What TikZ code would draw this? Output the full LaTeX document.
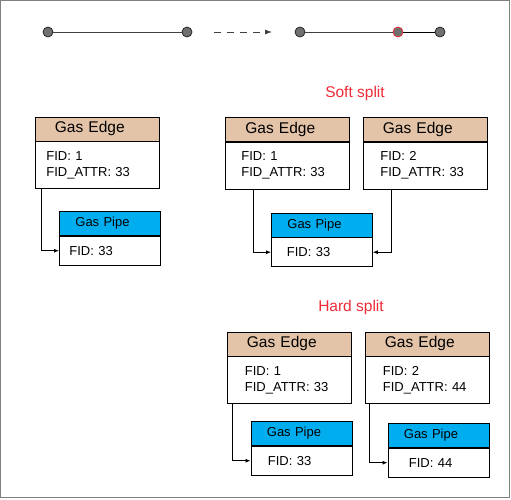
\documentclass[tikz,border=0pt]{standalone}
\usepackage{fontspec}
\setmainfont{Liberation Sans}
\usetikzlibrary{arrows.meta, positioning}
\definecolor{edgetan}{HTML}{E4C4A8}
\definecolor{pipeblue}{HTML}{00AEEF}
\definecolor{splitred}{HTML}{EE2B36}
\definecolor{dotgray}{HTML}{707070}
\tikzset{
	edgehead/.style={draw, thick, fill=edgetan, minimum width=124pt, minimum height=24pt, text width=#1, align=left, inner sep=0pt, anchor=north west, font=\fontsize{15.5}{18}\selectfont},
	edgehead/.default=84pt,
	edgebody/.style={draw, thick, fill=white, minimum width=124pt, minimum height=47pt, text width=#1, align=left, inner sep=0pt, font=\fontsize{13}{16}\selectfont},
	edgebody/.default=92pt,
	pipehead/.style={draw, thick, fill=pipeblue, minimum width=101pt, minimum height=24pt, text width=#1, align=left, inner sep=0pt, anchor=north west, font=\fontsize{13}{16}\selectfont},
	pipehead/.default=69pt,
	pipebody/.style={draw, thick, fill=white, minimum width=101pt, minimum height=29pt, text width=#1, align=left, inner sep=0pt, font=\fontsize{13}{16}\selectfont},
	pipebody/.default=67pt,
	dot/.style={circle, draw=black!85, thick, fill=dotgray, minimum size=10pt, inner sep=0pt},
	line/.style={-{Latex[length=5pt, width=4pt]}, thick},
	title/.style={text=splitred, font=\fontsize{15.5}{18}\selectfont}
}
\begin{document}
\begin{tikzpicture}[x=1pt, y=-1pt]
	\useasboundingbox (0,0) rectangle (511,499);
	\draw[gray, line width=1.2pt] (0.6,0.6) rectangle (509.4,497.6);

	% === TOP ROW ===
	\node[dot] (a1) at (48,32) {};
	\node[dot] (a2) at (187,32) {};
	\draw[thick, black!75] (a1) -- (a2);
	\coordinate (from) at (214,32);
	\coordinate (to) at (272,32);
	\draw[thick, dashed, black!75, dash pattern=on 7pt off 6pt, -{Latex[length=7pt, width=5pt]}] (from) -- (to);
	\node[dot] (b1) at (300,32) {};
	\node[dot, draw=splitred] (b2) at (398,32) {};
	\node[dot] (b3) at (440,32) {};
	\draw[thick, black!75] (b1) -- (b2);
	\draw[thick] (b2) -- (b3);

	% === ORIGINAL ===
	\node[edgehead] (e0) at (34.5,116.5) {Gas Edge};
	\node[edgebody=101pt, below=0pt of e0] (e0b) {FID: 1\\FID\_ATTR: 33};
	\node[pipehead] (p0) at (59,211) {Gas Pipe};
	\node[pipebody=81pt, below=0pt of p0] (p0b) {FID: 33};
	\draw[line] (e0b.south west) ++(7,0) |- (p0b.west);

	% === SOFT SPLIT ===
	\node[title] (soft) at (355,93) {Soft split};
	\node[edgehead] (e1) at (225,117) {Gas Edge};
	\node[edgebody, below=0pt of e1] (e1b) {FID: 1\\FID\_ATTR: 33};
	\node[edgehead] (e2) at (362.5,117) {Gas Edge};
	\node[edgebody=89pt, below=0pt of e2] (e2b) {FID: 2\\FID\_ATTR: 33};
	\node[pipehead] (p1) at (271,212.5) {Gas Pipe};
	\node[pipebody=70pt, below=0pt of p1] (p1b) {FID: 33};
	\draw[line] (e1b.south west) ++(28.5,0) |- (p1b.west);
	\draw[line] (e2b.south west) ++(29,0) |- (p1b.east);

	% === HARD SPLIT ===
	\node[title] (hard) at (351,307) {Hard split};
	\node[edgehead] (e3) at (226.5,331.5) {Gas Edge};
	\node[edgebody=88pt, below=0pt of e3] (e3b) {FID: 1\\FID\_ATTR: 33};
	\node[edgehead] (e4) at (364.5,331.5) {Gas Edge};
	\node[edgebody=88pt, below=0pt of e4] (e4b) {FID: 2\\FID\_ATTR: 44};
	\node[pipehead] (p3) at (250.5,421) {Gas Pipe};
	\node[pipebody, below=0pt of p3] (p3b) {FID: 33};
	\node[pipehead] (p4) at (387.5,423) {Gas Pipe};
	\node[pipebody=59pt, below=0pt of p4] (p4b) {FID: 44};
	\draw[line] (e3b.south west) ++(6,0) |- (p3b.west);
	\draw[line] (e4b.south west) ++(5,0) |- (p4b.west);
\end{tikzpicture}
\end{document}
